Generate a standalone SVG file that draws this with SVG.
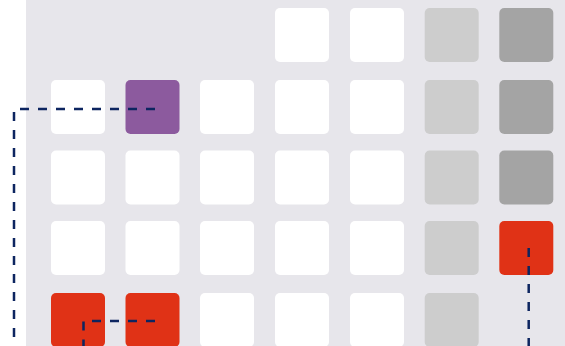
<svg xmlns="http://www.w3.org/2000/svg" width="565" height="346" viewBox="0 0 565 346">
<style>
.c{stroke:none}
.w{fill:#ffffff}
.l{fill:#cdcdcd}
.d{fill:#a4a4a4}
.p{fill:#8c5a9e}
.r{fill:#e03216}
.e{fill:none;stroke:#0d2560;stroke-width:2.5;stroke-dasharray:9 9}
</style>
<defs>
<rect id="sq" width="54" height="54" rx="5"/>
</defs>
<rect x="0" y="0" width="565" height="346" fill="#ffffff"/>
<rect x="26" y="0" width="539" height="346" fill="#e7e6eb"/>
<g id="row1">
<use href="#sq" id="n1-4" class="w" x="275" y="8"/>
<use href="#sq" id="n1-5" class="w" x="350" y="8"/>
<use href="#sq" id="n1-6" class="l" x="424.7" y="8"/>
<use href="#sq" id="n1-7" class="d" x="499.3" y="8"/>
</g>
<g id="row2">
<use href="#sq" id="n2-1" class="w" x="51" y="80"/>
<use href="#sq" id="n2-2" class="p" x="125.5" y="80"/>
<use href="#sq" id="n2-3" class="w" x="200" y="80"/>
<use href="#sq" id="n2-4" class="w" x="275" y="80"/>
<use href="#sq" id="n2-5" class="w" x="350" y="80"/>
<use href="#sq" id="n2-6" class="l" x="424.7" y="80"/>
<use href="#sq" id="n2-7" class="d" x="499.3" y="80"/>
</g>
<g id="row3">
<use href="#sq" id="n3-1" class="w" x="51" y="150.5"/>
<use href="#sq" id="n3-2" class="w" x="125.5" y="150.5"/>
<use href="#sq" id="n3-3" class="w" x="200" y="150.5"/>
<use href="#sq" id="n3-4" class="w" x="275" y="150.5"/>
<use href="#sq" id="n3-5" class="w" x="350" y="150.5"/>
<use href="#sq" id="n3-6" class="l" x="424.7" y="150.5"/>
<use href="#sq" id="n3-7" class="d" x="499.3" y="150.5"/>
</g>
<g id="row4">
<use href="#sq" id="n4-1" class="w" x="51" y="221"/>
<use href="#sq" id="n4-2" class="w" x="125.5" y="221"/>
<use href="#sq" id="n4-3" class="w" x="200" y="221"/>
<use href="#sq" id="n4-4" class="w" x="275" y="221"/>
<use href="#sq" id="n4-5" class="w" x="350" y="221"/>
<use href="#sq" id="n4-6" class="l" x="424.7" y="221"/>
<use href="#sq" id="n4-7" class="r" x="499.3" y="221"/>
</g>
<g id="row5">
<use href="#sq" id="n5-1" class="r" x="51" y="293"/>
<use href="#sq" id="n5-2" class="r" x="125.5" y="293"/>
<use href="#sq" id="n5-3" class="w" x="200" y="293"/>
<use href="#sq" id="n5-4" class="w" x="275" y="293"/>
<use href="#sq" id="n5-5" class="w" x="350" y="293"/>
<use href="#sq" id="n5-6" class="l" x="424.7" y="293"/>
</g>
<g id="connectors">
<path class="e" d="M155 109 H14 V346"/>
<path class="e" d="M155 321 H83.5 V346"/>
<path class="e" d="M528.7 248 V346"/>
</g>
</svg>
